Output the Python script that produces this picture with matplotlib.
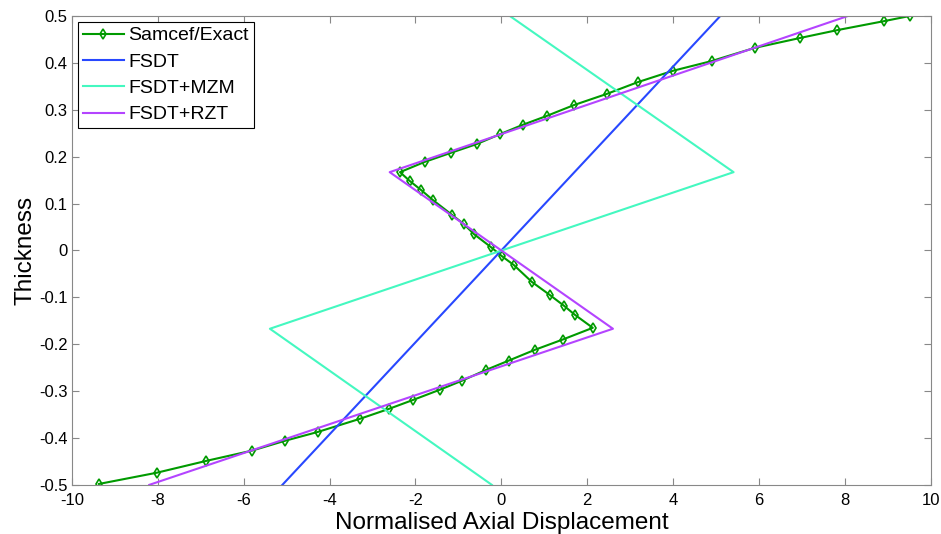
import numpy as np
import matplotlib.pyplot as plt

plt.rcParams['font.family'] = ['Liberation Sans', 'DejaVu Sans']
plt.rcParams['axes.unicode_minus'] = False

# Samcef/Exact reference points (displacement, thickness)
exact_x = [9.51, 8.91, 7.83, 6.95, 5.90, 4.90, 3.99, 3.18, 2.46, 1.69, 1.06, 0.50, -0.03,
           -0.57, -1.18, -1.78, -2.36,
           -2.13, -1.87, -1.60, -1.15, -0.87, -0.64, -0.24, 0.01, 0.29, 0.71, 1.13, 1.46, 1.71, 2.13,
           1.43, 0.78, 0.17, -0.36, -0.92, -1.43, -2.06, -2.62, -3.29, -4.27, -5.04, -5.81,
           -6.88, -8.02, -9.37]
exact_y = [0.5, 0.489, 0.470, 0.453, 0.432, 0.404, 0.383, 0.359, 0.334, 0.310, 0.287, 0.268, 0.248,
           0.227, 0.208, 0.189, 0.167,
           0.148, 0.129, 0.108, 0.076, 0.056, 0.035, 0.007, -0.012, -0.031, -0.067, -0.095, -0.118, -0.137, -0.165,
           -0.190, -0.212, -0.235, -0.255, -0.278, -0.297, -0.319, -0.338, -0.359, -0.387, -0.406, -0.427,
           -0.449, -0.474, -0.498]

fsdt_x = [-5.1, 5.1]
fsdt_y = [-0.5, 0.5]

mzm_x = [0.2, 5.41, -5.39, -0.22]
mzm_y = [0.5, 0.167, -0.167, -0.5]

rzt_x = [8.07, -2.6, 2.6, -8.2]
rzt_y = [0.5, 0.167, -0.167, -0.5]

fig = plt.figure(figsize=(9.41, 5.34), dpi=100)
ax = fig.add_axes([0.0765, 0.092, 0.9125, 0.878])

ax.plot(exact_x, exact_y, color='#009a00', lw=1.5, marker='d', ms=5,
        mfc='none', mec='#009a00', mew=1.2, label='Samcef/Exact')
ax.plot(fsdt_x, fsdt_y, color='#2848ff', lw=1.5, label='FSDT')
ax.plot(mzm_x, mzm_y, color='#44f8c0', lw=1.5, label='FSDT+MZM')
ax.plot(rzt_x, rzt_y, color='#b444ff', lw=1.5, label='FSDT+RZT')

ax.set_xlim(-10, 10)
ax.set_ylim(-0.5, 0.5)
ax.set_xticks(np.arange(-10, 11, 2))
ax.set_yticks(np.round(np.arange(-0.5, 0.51, 0.1), 1))
ax.set_yticklabels(['-0.5', '-0.4', '-0.3', '-0.2', '-0.1', '0', '0.1', '0.2', '0.3', '0.4', '0.5'])
ax.tick_params(direction='in', top=True, right=True, labelsize=12, length=5,
               color='#888888')
ax.tick_params(axis='x', pad=6)
ax.tick_params(axis='y', pad=3)
for s in ax.spines.values():
    s.set_color('#888888')

ax.set_xlabel('Normalised Axial Displacement', fontsize=17.5, labelpad=3)
ax.set_ylabel('Thickness', fontsize=17.5, labelpad=2)

leg = ax.legend(loc='upper left', fontsize=14, fancybox=False, framealpha=1,
                edgecolor='black', borderaxespad=0.3, handlelength=2.1,
                handletextpad=0.25, labelspacing=0.45, borderpad=0.25)
leg.get_frame().set_linewidth(0.8)

plt.savefig('out.png', dpi=100)
